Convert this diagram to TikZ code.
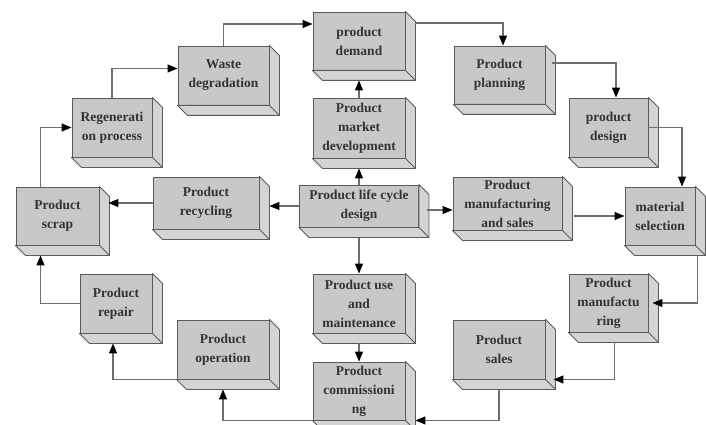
\documentclass[tikz,border=0pt]{standalone}
\usepackage{fontspec}
\setmainfont{Liberation Serif}
\usetikzlibrary{calc,arrows.meta}

\definecolor{boxfill}{HTML}{C8C8C8}
\definecolor{sidefill}{HTML}{D4D4D4}
\definecolor{boxline}{HTML}{5A5A5A}
\definecolor{txt}{HTML}{333333}
\definecolor{wire}{HTML}{6E6E6E}

\begin{document}
\begin{tikzpicture}[x=1pt,y=-1pt,
  block/.style={draw=boxline,fill=boxfill,line width=0.9pt,inner sep=0pt,align=center,
    text=txt,font=\bfseries\fontsize{13.5}{19}\selectfont},
  dims/.style 2 args={minimum width=#1pt,minimum height=#2pt},
  side/.style={draw=boxline,fill=sidefill,line width=0.9pt,line join=round},
  link/.style={draw=wire,line width=1.1pt,-{Triangle[length=10pt,width=8pt,color=black]}}]
  \useasboundingbox (0,0) rectangle (706,425);
  % the boxes, front faces
  \path (359,41) node[block,dims={92}{58}] (demand) {product\\demand}
  (359,128) node[block,dims={92}{60}] (market) {Product\\market\\development}
  (359,206) node[block,dims={119}{42}] (plcd) {Product life cycle\\design}
  (507.5,203.5) node[block,dims={109}{53}] (pms) {Product\\manufacturing\\and sales}
  (499.5,75) node[block,dims={91}{58}] (planning) {Product\\planning}
  (608.5,127.5) node[block,dims={79}{59}] (design) {product\\design}
  (660,216) node[block,dims={70}{58}] (material) {material\\selection}
  (608.5,303) node[block,dims={79}{58}] (pmanu) {Product\\manufactu\\ring}
  (499,349.5) node[block,dims={92}{59}] (sales) {Product\\sales}
  (359,303.5) node[block,dims={92}{59}] (use) {Product use\\and\\maintenance}
  (359,391) node[block,dims={92}{58}] (commission) {Product\\commissioni\\ng}
  (223,349.5) node[block,dims={92}{59}] (operation) {Product\\operation}
  (116,303.5) node[block,dims={72}{59}] (repair) {Product\\repair}
  (57.5,216) node[block,dims={83}{58}] (scrap) {Product\\scrap}
  (206,203) node[block,dims={106}{52}] (recycling) {Product\\recycling}
  (112,127.5) node[block,dims={80}{59}] (regen) {Regenerati\\on process}
  (223.5,75.5) node[block,dims={91}{59}] (waste) {Waste\\degradation};
  % depth of the boxes
  \foreach \n in {demand,market,plcd,pms,planning,design,material,pmanu,sales,use,
    commission,operation,repair,scrap,recycling,regen,waste} {
    \filldraw[side] (\n.north east) -- ++(10,10) -- ($(\n.south east)+(10,10)$)
      -- ($(\n.south west)+(10,10)$) -- (\n.south west) -- (\n.south east) -- cycle;
    \draw[side,fill=none] (\n.south east) -- ++(10,10);
  }
  % outer loop
  \draw[link] ([xshift=10pt,yshift=18pt]demand.east) -| ([xshift=3.5pt]planning.north);
  \draw[link] ([xshift=7pt,yshift=12pt]planning.east) -| ([xshift=7.5pt]design.north);
  \draw[link] (design.east) -| ([xshift=22pt]material.north);
  \draw[link] ([xshift=2pt,yshift=-10pt]material.south east) |- ([xshift=4pt]pmanu.east);
  \draw[link] ([xshift=6pt,yshift=-10pt]pmanu.south) |- ([xshift=8pt]sales.south east);
  \draw[link] ([yshift=-10pt]sales.south) |- ([xshift=10pt]commission.south east);
  \draw[link] (commission.south west) -| ([yshift=-10pt]operation.south);
  \draw[link] (operation.south west) -| ([xshift=-3pt,yshift=-10pt]repair.south);
  \draw[link] (repair.west) -| ([xshift=-17pt,yshift=-10pt]scrap.south);
  \draw[link] ([xshift=-17pt]scrap.north) |- (regen.west);
  \draw[link] (regen.north) |- ([yshift=7pt]waste.west);
  \draw[link] (waste.north) |- ([yshift=17pt]demand.west);
  % from the centre
  \draw[link] (plcd.north) -- ([yshift=-10pt]market.south);
  \draw[link] (market.north) -- ([yshift=-10pt]demand.south);
  \draw[link] ([yshift=-11pt]plcd.south) -- (use.north);
  \draw[link] ([yshift=-10pt]use.south) -- (commission.north);
  \draw[link] (plcd.west) -- ([xshift=10pt]plcd.west -| recycling.east);
  \draw[link] (recycling.west) -- ([xshift=9pt]recycling.west -| scrap.east);
  \draw[link] ([xshift=8pt,yshift=-4pt]plcd.east) -- ([yshift=-4pt]plcd.east -| pms.west);
  \draw[link] ([xshift=12pt]pms.east |- material.west) -- (material.west);
\end{tikzpicture}
\end{document}
